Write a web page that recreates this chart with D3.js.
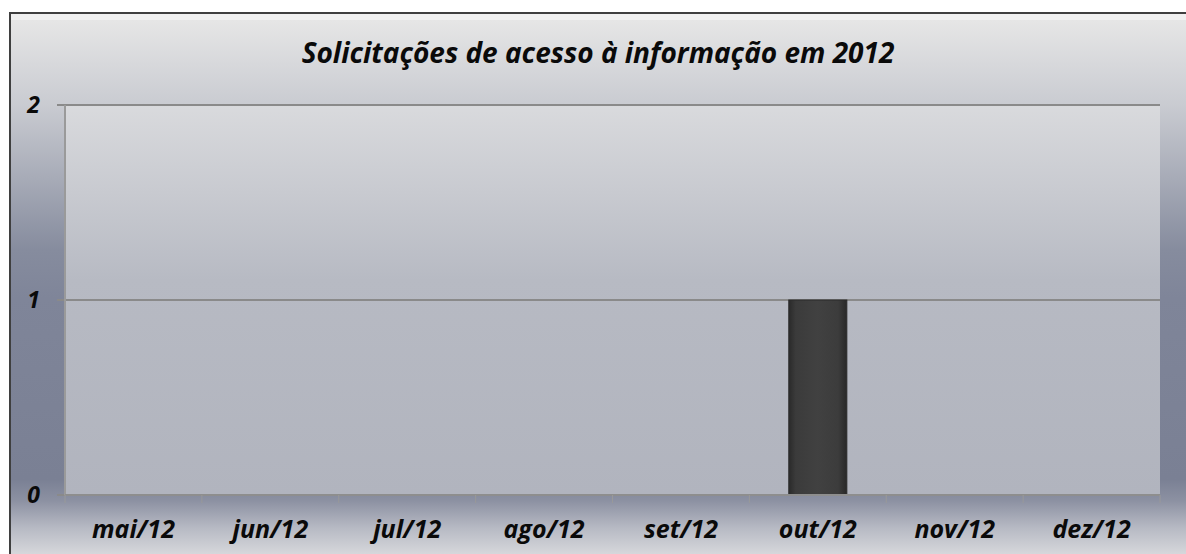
<!DOCTYPE html>
<html lang="pt">
<head>
    <meta charset="UTF-8">
    <title>Solicitações de acesso à informação em 2012</title>
    <script src="https://cdn.jsdelivr.net/npm/d3@7"></script>
    <style>
        body{ margin:0; background:#fff; }
        text{ font-family:"Open Sans", sans-serif; font-weight:bold; font-style:italic; fill:#0a0a0a; }
    </style>
</head>
<body>
<script>
    // dados
    var months = ['mai/12','jun/12','jul/12','ago/12','set/12','out/12','nov/12','dez/12'];
    var values = [0, 0, 0, 0, 0, 1, 0, 0];
    var yTicks = [0, 1, 2];
    var title = 'Solicitações de acesso à informação em 2012';

    var width = 1186, height = 554;
    var plot = {left:65, right:1160, top:105, bottom:495};

    var svg = d3.select('body').append('svg')
        .attr('width', width)
        .attr('height', height);

    var defs = svg.append('defs');

    // fundo do gráfico
    var bg = defs.append('linearGradient')
        .attr('id','bg').attr('gradientUnits','userSpaceOnUse')
        .attr('x1',0).attr('y1',20).attr('x2',0).attr('y2',554);
    [[0,'#e6e6e6'],[0.16,'#c9cbd1'],[0.43,'#868c9e'],[0.52,'#7f8599'],[0.86,'#7a8094'],
     [0.9,'#8c91a2'],[0.95,'#b6b9c3'],[1,'#d6d7db']].forEach(function(s){
        bg.append('stop').attr('offset',s[0]).attr('stop-color',s[1]);
    });

    // área de plotagem
    var pg = defs.append('linearGradient')
        .attr('id','pg').attr('x1',0).attr('y1',0).attr('x2',0).attr('y2',1);
    [[0,'#d9dadd'],[0.45,'#b7bac3'],[1,'#b1b4be']].forEach(function(s){
        pg.append('stop').attr('offset',s[0]).attr('stop-color',s[1]);
    });

    // barra
    var bar = defs.append('linearGradient')
        .attr('id','bar').attr('x1',0).attr('y1',0).attr('x2',1).attr('y2',0);
    [[0,'#2a2a2a'],[0.12,'#3b3b3b'],[0.5,'#414141'],[0.85,'#3c3c3c'],[1,'#282828']].forEach(function(s){
        bar.append('stop').attr('offset',s[0]).attr('stop-color',s[1]);
    });

    svg.append('rect')
        .attr('x',10).attr('y',13).attr('width',width).attr('height',height)
        .attr('fill','url(#bg)');
    svg.append('rect')
        .attr('x',10).attr('y',13).attr('width',width).attr('height',7)
        .attr('fill','#f0f0f0');
    svg.append('path')
        .attr('d','M10,' + height + 'V13H' + width)
        .attr('fill','none').attr('stroke','#3f3f3f').attr('stroke-width',2);

    var x = d3.scaleBand()
        .domain(months)
        .range([plot.left, plot.right])
        .paddingInner(0.576)
        .paddingOuter(0.288);

    var y = d3.scaleLinear()
        .domain([0, 2])
        .range([plot.bottom, plot.top]);

    svg.append('rect')
        .attr('x',plot.left).attr('y',plot.top)
        .attr('width',plot.right - plot.left).attr('height',plot.bottom - plot.top)
        .attr('fill','url(#pg)');

    // linhas de grade + marcas do eixo y
    svg.append('g').selectAll('line')
        .data(yTicks)
        .enter().append('line')
        .attr('x1',plot.left - 8).attr('x2',plot.right)
        .attr('y1',function(d){ return y(d); })
        .attr('y2',function(d){ return y(d); })
        .attr('stroke','#8a8a8a').attr('stroke-width',2);

    svg.append('line')
        .attr('x1',plot.left).attr('x2',plot.left)
        .attr('y1',plot.top).attr('y2',plot.bottom)
        .attr('stroke','#9a9a9a').attr('stroke-width',2);

    // barras
    svg.append('g').selectAll('rect')
        .data(values)
        .enter().append('rect')
        .attr('x',function(d,i){ return x(months[i]); })
        .attr('y',function(d){ return y(d); })
        .attr('width',x.bandwidth())
        .attr('height',function(d){ return y(0) - y(d); })
        .attr('fill','url(#bar)')
        .attr('stroke','#2a2a2a').attr('stroke-width',1);

    svg.append('line')
        .attr('x1',plot.left).attr('x2',plot.right)
        .attr('y1',y(0)).attr('y2',y(0))
        .attr('stroke','#8e8e8e').attr('stroke-width',2);

    // marcas do eixo x (limites das categorias)
    var half = x.step() / 2;
    var edges = months.map(function(m){ return x(m) + x.bandwidth()/2 - half; })
        .concat([x(months[months.length-1]) + x.bandwidth()/2 + half]);
    svg.append('g').selectAll('line')
        .data(edges)
        .enter().append('line')
        .attr('x1',function(d){ return d; }).attr('x2',function(d){ return d; })
        .attr('y1',y(0)).attr('y2',y(0) + 8)
        .attr('stroke','#999').attr('stroke-width',1);

    // rótulos
    svg.append('g').selectAll('text')
        .data(months)
        .enter().append('text')
        .attr('x',function(d){ return x(d) + x.bandwidth()/2; })
        .attr('y',538)
        .attr('text-anchor','middle')
        .style('font-size','25px')
        .text(function(d){ return d; });

    svg.append('g').selectAll('text')
        .data(yTicks)
        .enter().append('text')
        .attr('x',40)
        .attr('y',function(d){ return y(d) + 8; })
        .attr('text-anchor','end')
        .style('font-size','23px')
        .text(function(d){ return d; });

    svg.append('text')
        .attr('x',598).attr('y',63)
        .attr('text-anchor','middle')
        .style('font-size','28px')
        .text(title);
</script>
</body>
</html>
